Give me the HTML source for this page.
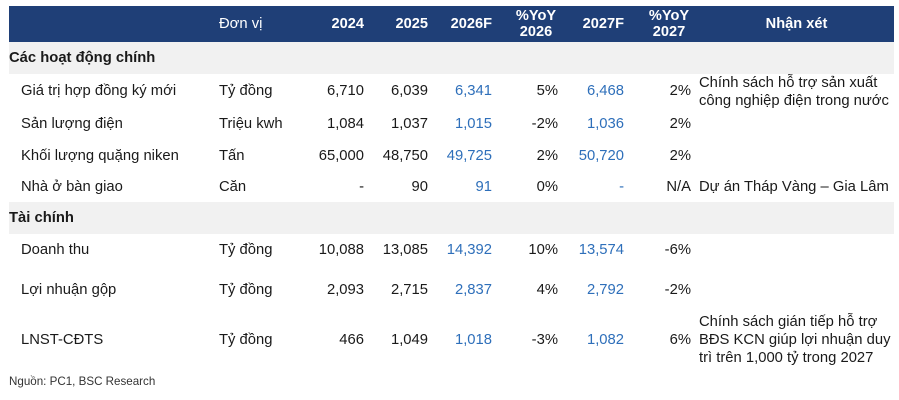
<!DOCTYPE html>
<html><head><meta charset="utf-8"><style>
body{margin:0;width:899px;height:400px;background:#fff;position:relative;font-family:"Liberation Sans",sans-serif;color:#1a1a1a;overflow:hidden}
.a{position:absolute;white-space:nowrap;font-size:14.8px;line-height:16px}
.r{text-align:right}
.b{color:#2e6fba}
.h{color:#fff;font-weight:bold;font-size:14.6px}
.band{position:absolute;left:9px;width:885px}
</style></head><body>
<div class="band" style="top:6px;height:36px;background:#1f3f77"></div>
<div class="band" style="top:42px;height:32px;background:#f1f1f1"></div>
<div class="band" style="top:202px;height:32px;background:#f1f1f1"></div>

<div class="a" style="left:219px;top:16px;color:#fff">Đơn vị</div>
<div class="a h r" style="right:535px;top:16px">2024</div>
<div class="a h r" style="right:471px;top:16px">2025</div>
<div class="a h r" style="right:407px;top:16px">2026F</div>
<div class="a h" style="left:510px;top:8px;width:52px;text-align:center">%YoY<br>2026</div>
<div class="a h r" style="right:275px;top:16px">2027F</div>
<div class="a h" style="left:643px;top:8px;width:52px;text-align:center">%YoY<br>2027</div>
<div class="a h" style="left:699px;top:16px;width:195px;text-align:center">Nhận xét</div>

<div class="a" style="left:9px;top:50px;font-weight:bold">Các hoạt động chính</div>
<div class="a" style="left:9px;top:210px;font-weight:bold">Tài chính</div>

<div class="a" style="left:21px;top:83px">Giá trị hợp đồng ký mới</div>
<div class="a" style="left:219px;top:83px">Tỷ đồng</div>
<div class="a r" style="right:535px;top:83px">6,710</div>
<div class="a r" style="right:471px;top:83px">6,039</div>
<div class="a r b" style="right:407px;top:83px">6,341</div>
<div class="a r" style="right:341px;top:83px">5%</div>
<div class="a r b" style="right:275px;top:83px">6,468</div>
<div class="a r" style="right:208px;top:83px">2%</div>
<div class="a" style="left:699px;top:74px;line-height:18px">Chính sách hỗ trợ sản xuất<br>công nghiệp điện trong nước</div>

<div class="a" style="left:21px;top:116px">Sản lượng điện</div>
<div class="a" style="left:219px;top:116px">Triệu kwh</div>
<div class="a r" style="right:535px;top:116px">1,084</div>
<div class="a r" style="right:471px;top:116px">1,037</div>
<div class="a r b" style="right:407px;top:116px">1,015</div>
<div class="a r" style="right:341px;top:116px">-2%</div>
<div class="a r b" style="right:275px;top:116px">1,036</div>
<div class="a r" style="right:208px;top:116px">2%</div>

<div class="a" style="left:21px;top:148px">Khối lượng quặng niken</div>
<div class="a" style="left:219px;top:148px">Tấn</div>
<div class="a r" style="right:535px;top:148px">65,000</div>
<div class="a r" style="right:471px;top:148px">48,750</div>
<div class="a r b" style="right:407px;top:148px">49,725</div>
<div class="a r" style="right:341px;top:148px">2%</div>
<div class="a r b" style="right:275px;top:148px">50,720</div>
<div class="a r" style="right:208px;top:148px">2%</div>

<div class="a" style="left:21px;top:179px">Nhà ở bàn giao</div>
<div class="a" style="left:219px;top:179px">Căn</div>
<div class="a r" style="right:535px;top:179px">-</div>
<div class="a r" style="right:471px;top:179px">90</div>
<div class="a r b" style="right:407px;top:179px">91</div>
<div class="a r" style="right:341px;top:179px">0%</div>
<div class="a r b" style="right:275px;top:179px">-</div>
<div class="a r" style="right:208px;top:179px">N/A</div>
<div class="a" style="left:699px;top:179px">Dự án Tháp Vàng – Gia Lâm</div>

<div class="a" style="left:21px;top:242px">Doanh thu</div>
<div class="a" style="left:219px;top:242px">Tỷ đồng</div>
<div class="a r" style="right:535px;top:242px">10,088</div>
<div class="a r" style="right:471px;top:242px">13,085</div>
<div class="a r b" style="right:407px;top:242px">14,392</div>
<div class="a r" style="right:341px;top:242px">10%</div>
<div class="a r b" style="right:275px;top:242px">13,574</div>
<div class="a r" style="right:208px;top:242px">-6%</div>

<div class="a" style="left:21px;top:282px">Lợi nhuận gộp</div>
<div class="a" style="left:219px;top:282px">Tỷ đồng</div>
<div class="a r" style="right:535px;top:282px">2,093</div>
<div class="a r" style="right:471px;top:282px">2,715</div>
<div class="a r b" style="right:407px;top:282px">2,837</div>
<div class="a r" style="right:341px;top:282px">4%</div>
<div class="a r b" style="right:275px;top:282px">2,792</div>
<div class="a r" style="right:208px;top:282px">-2%</div>

<div class="a" style="left:21px;top:332px">LNST-CĐTS</div>
<div class="a" style="left:219px;top:332px">Tỷ đồng</div>
<div class="a r" style="right:535px;top:332px">466</div>
<div class="a r" style="right:471px;top:332px">1,049</div>
<div class="a r b" style="right:407px;top:332px">1,018</div>
<div class="a r" style="right:341px;top:332px">-3%</div>
<div class="a r b" style="right:275px;top:332px">1,082</div>
<div class="a r" style="right:208px;top:332px">6%</div>
<div class="a" style="left:699px;top:313px;line-height:18px">Chính sách gián tiếp hỗ trợ<br>BĐS KCN giúp lợi nhuận duy<br>trì trên 1,000 tỷ trong 2027</div>

<div class="a" style="left:9px;top:374px;font-size:11.6px;color:#333">Nguồn: PC1, BSC Research</div>
</body></html>
